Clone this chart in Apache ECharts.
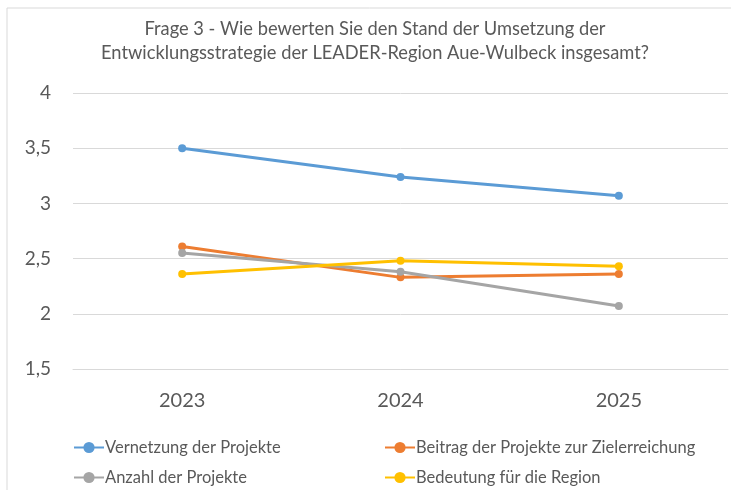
<!DOCTYPE html>
<html>
<head>
<meta charset="utf-8">
<script src="https://cdn.jsdelivr.net/npm/echarts@6/dist/echarts.min.js"></script>
<style>
  html, body { margin: 0; padding: 0; background: #fff; }
  #chart { width: 731px; height: 490px; }
</style>
</head>
<body>
<div id="chart"></div>
<script>
// Daten
var years = ["2023", "2024", "2025"];
var vernetzung = [3.5, 3.24, 3.07];
var beitrag = [2.61, 2.33, 2.36];
var anzahl = [2.55, 2.38, 2.07];
var bedeutung = [2.36, 2.48, 2.43];

var font = "Lato, 'Open Sans', sans-serif";
var grey = "#595959";

var chart = echarts.init(document.getElementById("chart"));

function line(name, data, color) {
    return {
        name: name,
        type: "line",
        data: data,
        symbol: "circle",
        symbolSize: 8,
        lineStyle: { width: 3, color: color },
        itemStyle: { color: color },
        emphasis: { disabled: true }
    };
}

// ein Legendeneintrag je Position
function legendItem(name, left, top) {
    return {
        left: left,
        top: top,
        itemWidth: 30,
        itemHeight: 14,
        data: [name],
        textStyle: { fontFamily: font, fontSize: 16.5, color: grey, padding: [0, 0, 0, -4] }
    };
}

var option = {
    animation: false,
    textStyle: { fontFamily: font },
    title: {
        text: "Frage 3 - Wie bewerten Sie den Stand der Umsetzung der\nEntwicklungsstrategie der LEADER-Region Aue-Wulbeck insgesamt?",
        left: 370,
        top: 12,
        textAlign: "center",
        textStyle: {
            fontFamily: font,
            fontSize: 18.3,
            fontWeight: "normal",
            color: grey,
            lineHeight: 24
        }
    },
    graphic: [
        {
            type: "rect",
            shape: { x: 7, y: 8, width: 740, height: 500 },
            style: { fill: "none", stroke: "#D9D9D9", lineWidth: 1 },
            silent: true
        }
    ],
    legend: [
        legendItem("Vernetzung der Projekte", 68, 434),
        legendItem("Anzahl der Projekte", 68, 464),
        legendItem("Beitrag der Projekte zur Zielerreichung", 379, 434),
        legendItem("Bedeutung für die Region", 379, 464)
    ],
    grid: {
        left: 73,
        right: 3,
        top: 93,
        bottom: 121
    },
    xAxis: {
        type: "category",
        data: years,
        boundaryGap: true,
        axisLine: { lineStyle: { color: "#D9D9D9", width: 1 } },
        axisTick: { show: false },
        axisLabel: { fontFamily: font, fontSize: 20, color: grey, margin: 22 }
    },
    yAxis: {
        type: "value",
        min: 1.5,
        max: 4,
        interval: 0.5,
        axisLine: { show: false },
        axisTick: { show: false },
        splitLine: { lineStyle: { color: "#D9D9D9", width: 1 } },
        axisLabel: {
            fontFamily: font,
            fontSize: 19,
            color: grey,
            margin: 22,
            formatter: function (v) { return String(v).replace(".", ","); }
        }
    },
    series: [
        line("Vernetzung der Projekte", vernetzung, "#5B9BD5"),
        line("Beitrag der Projekte zur Zielerreichung", beitrag, "#ED7D31"),
        line("Anzahl der Projekte", anzahl, "#A5A5A5"),
        line("Bedeutung für die Region", bedeutung, "#FFC000")
    ]
};

chart.setOption(option);
</script>
</body>
</html>
